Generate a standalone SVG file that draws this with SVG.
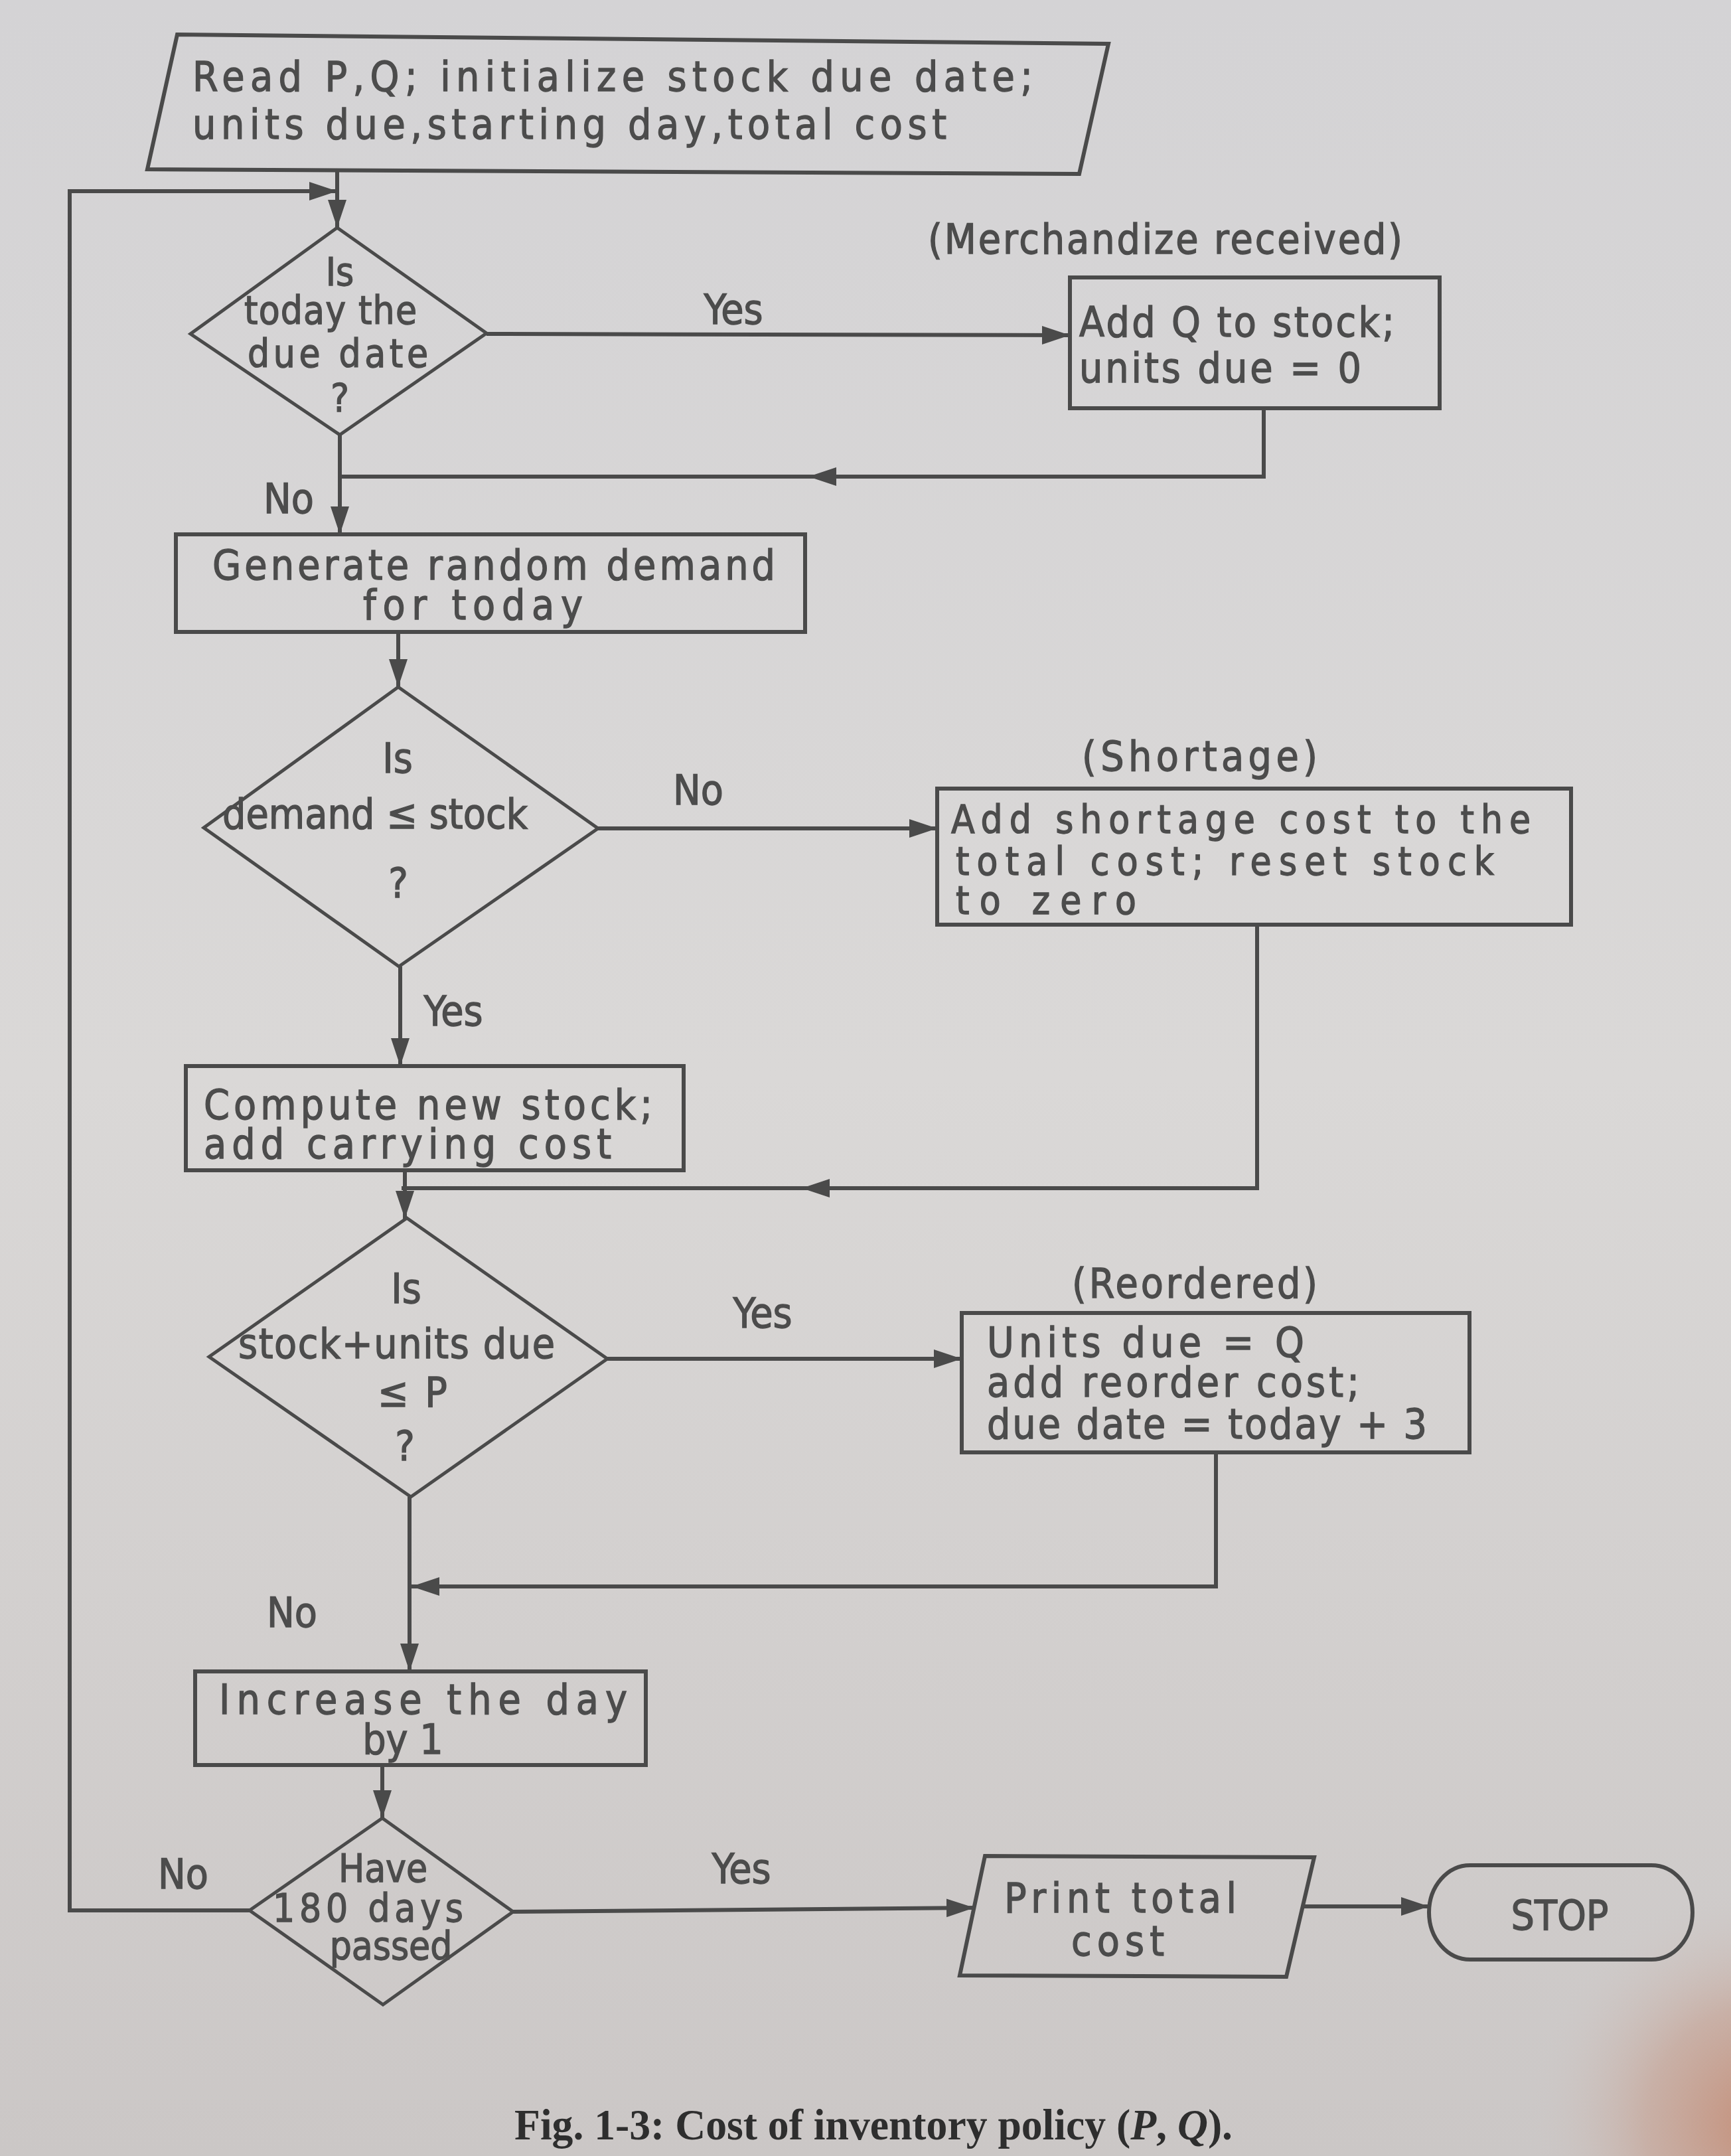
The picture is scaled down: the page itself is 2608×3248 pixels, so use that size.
<svg xmlns="http://www.w3.org/2000/svg" width="2608" height="3248" viewBox="0 0 2608 3248">
<defs>
<linearGradient id="bg" x1="0" y1="0" x2="0" y2="1">
<stop offset="0" stop-color="#d4d3d5"/>
<stop offset="0.5" stop-color="#dad8d7"/>
<stop offset="1" stop-color="#cbc7c6"/>
</linearGradient>
<radialGradient id="finger" cx="2660" cy="3200" r="360" gradientUnits="userSpaceOnUse">
<stop offset="0" stop-color="#c48a72" stop-opacity="0.95"/>
<stop offset="0.5" stop-color="#c59886" stop-opacity="0.5"/>
<stop offset="1" stop-color="#cfc9c8" stop-opacity="0"/>
</radialGradient>
<marker id="arr" markerUnits="userSpaceOnUse" markerWidth="44" markerHeight="32" refX="42" refY="16" orient="auto">
<path d="M0,2 L42,16 L0,30 Z" fill="#4a4a4a"/>
</marker>
<style>
.shape{fill:none;stroke:#4a4a4a;stroke-width:6;stroke-linejoin:miter}
.dia{fill:none;stroke:#4a4a4a;stroke-width:5}
.con{fill:none;stroke:#4a4a4a;stroke-width:6}
.t{font-family:"DejaVu Sans Condensed","DejaVu Sans",sans-serif;font-size:62px;fill:#4c4c4c;stroke:#4c4c4c;stroke-width:1.3}
.s{font-size:58px}
.c{text-anchor:middle}
.cap{font-family:"Liberation Serif","Times New Roman",serif;font-size:66px;font-weight:bold;fill:#2e2e2e}
</style>
</defs>
<rect x="0" y="0" width="2608" height="3248" fill="url(#bg)"/>
<rect x="2150" y="2750" width="458" height="498" fill="url(#finger)"/>

<g id="connectors">
<path class="con" d="M508,258 L508,343" marker-end="url(#arr)"/>
<path class="con" d="M376,2878 L105,2878 L105,288 L508,288" marker-end="url(#arr)"/>
<path class="con" d="M733,503 L1612,505" marker-end="url(#arr)"/>
<path class="con" d="M1904,615 L1904,718 L1218,718" marker-end="url(#arr)"/>
<path class="con" d="M1220,718 L512,718"/>
<path class="con" d="M512,655 L512,805" marker-end="url(#arr)"/>
<path class="con" d="M600,952 L600,1035" marker-end="url(#arr)"/>
<path class="con" d="M901,1248 L1412,1248" marker-end="url(#arr)"/>
<path class="con" d="M1894,1393 L1894,1790 L1208,1790" marker-end="url(#arr)"/>
<path class="con" d="M1210,1790 L605,1790"/>
<path class="con" d="M603,1456 L603,1606" marker-end="url(#arr)"/>
<path class="con" d="M610,1763 L610,1836" marker-end="url(#arr)"/>
<path class="con" d="M915,2047 L1449,2047" marker-end="url(#arr)"/>
<path class="con" d="M1832,2188 L1832,2390 L620,2390" marker-end="url(#arr)"/>
<path class="con" d="M617,2255 L617,2518" marker-end="url(#arr)"/>
<path class="con" d="M576,2659 L576,2739" marker-end="url(#arr)"/>
<path class="con" d="M773,2880 L1468,2874" marker-end="url(#arr)"/>
<path class="con" d="M1963,2872 L2153,2872" marker-end="url(#arr)"/>
<text class="t c" x="1105" y="488">Yes</text>
<text class="t c" x="435" y="773">No</text>
<text class="t c" x="1052" y="1212">No</text>
<text class="t c" x="683" y="1545">Yes</text>
<text class="t c" x="1149" y="2000">Yes</text>
<text class="t c" x="440" y="2451">No</text>
<text class="t c" x="276" y="2845">No</text>
<text class="t c" x="1117" y="2837">Yes</text>
</g>

<g id="start">
<polygon class="shape" points="267,52 1670,66 1626,262 222,255"/>
<text class="t" x="290" y="137" textLength="1266" lengthAdjust="spacing">Read P,Q; initialize stock due date;</text>
<text class="t" x="290" y="209" textLength="1136" lengthAdjust="spacing">units due,starting day,total cost</text>
</g>

<g id="dec-due-date">
<polygon class="dia" points="508,343 733,502 512,655 287,503"/>
<text class="t s c" x="512" y="430">Is</text>
<text class="t s" x="368" y="488" textLength="260" lengthAdjust="spacing">today the</text>
<text class="t s" x="373" y="553" textLength="272" lengthAdjust="spacing">due date</text>
<text class="t s c" x="512" y="620">?</text>
</g>

<g id="add-q">
<rect class="shape" x="1612" y="418" width="557" height="197"/>
<text class="t" x="1398" y="382" textLength="715" lengthAdjust="spacing">(Merchandize received)</text>
<text class="t" x="1626" y="507" textLength="475" lengthAdjust="spacing">Add Q to stock;</text>
<text class="t" x="1626" y="576" textLength="425" lengthAdjust="spacing">units due = 0</text>
</g>

<g id="gen-demand">
<rect class="shape" x="265" y="805" width="948" height="147"/>
<text class="t" x="320" y="873" textLength="848" lengthAdjust="spacing">Generate random demand</text>
<text class="t" x="547" y="933" textLength="331" lengthAdjust="spacing">for today</text>
</g>

<g id="dec-demand">
<polygon class="dia" points="600,1035 901,1248 601,1456 307,1247"/>
<text class="t c" x="599" y="1164">Is</text>
<text class="t" x="335" y="1248" textLength="460" lengthAdjust="spacing">demand ≤ stock</text>
<text class="t c" x="600" y="1352">?</text>
</g>

<g id="shortage">
<rect class="shape" x="1412" y="1188" width="955" height="205"/>
<text class="t" x="1630" y="1161" textLength="355" lengthAdjust="spacing">(Shortage)</text>
<text class="t s" x="1433" y="1255" textLength="873" lengthAdjust="spacing">Add shortage cost to the</text>
<text class="t s" x="1440" y="1318" textLength="811" lengthAdjust="spacing">total cost; reset stock</text>
<text class="t s" x="1440" y="1377" textLength="272" lengthAdjust="spacing">to zero</text>
</g>

<g id="compute">
<rect class="shape" x="280" y="1606" width="750" height="157"/>
<text class="t" x="307" y="1686" textLength="676" lengthAdjust="spacing">Compute new stock;</text>
<text class="t" x="307" y="1745" textLength="614" lengthAdjust="spacing">add carrying cost</text>
</g>

<g id="dec-reorder">
<polygon class="dia" points="613,1835 915,2047 619,2255 315,2044"/>
<text class="t c" x="612" y="1963">Is</text>
<text class="t" x="359" y="2046" textLength="477" lengthAdjust="spacing">stock+units due</text>
<text class="t" x="569" y="2119" textLength="105" lengthAdjust="spacing">≤ P</text>
<text class="t c" x="610" y="2200">?</text>
</g>

<g id="reorder">
<rect class="shape" x="1449" y="1978" width="765" height="210"/>
<text class="t" x="1615" y="1955" textLength="370" lengthAdjust="spacing">(Reordered)</text>
<text class="t" x="1487" y="2044" textLength="478" lengthAdjust="spacing">Units due = Q</text>
<text class="t" x="1487" y="2104" textLength="561" lengthAdjust="spacing">add reorder cost;</text>
<text class="t" x="1487" y="2167" textLength="663" lengthAdjust="spacing">due date = today + 3</text>
</g>

<g id="increase">
<rect class="shape" x="294" y="2518" width="679" height="141"/>
<text class="t" x="330" y="2582" textLength="615" lengthAdjust="spacing">Increase the day</text>
<text class="t c" x="607" y="2642">by 1</text>
</g>

<g id="dec-180">
<polygon class="dia" points="576,2739 773,2880 577,3020 376,2878"/>
<text class="t s c" x="577" y="2835">Have</text>
<text class="t s" x="411" y="2895" textLength="287" lengthAdjust="spacing">180 days</text>
<text class="t s c" x="589" y="2952">passed</text>
</g>

<g id="print">
<polygon class="shape" points="1484,2796 1980,2798 1938,2978 1446,2976"/>
<text class="t" x="1513" y="2881" textLength="350" lengthAdjust="spacing">Print total</text>
<text class="t" x="1614" y="2946" textLength="140" lengthAdjust="spacing">cost</text>
</g>

<g id="stop">
<rect class="shape" x="2153" y="2810" width="397" height="142" rx="62" ry="71"/>
<text class="t c" x="2350" y="2907">STOP</text>
</g>

<g id="caption">
<text class="cap" x="775" y="3223" textLength="1082" lengthAdjust="spacingAndGlyphs">Fig. 1-3:   Cost of inventory policy (<tspan font-style="italic">P</tspan>, <tspan font-style="italic">Q</tspan>).</text>
</g>
</svg>
